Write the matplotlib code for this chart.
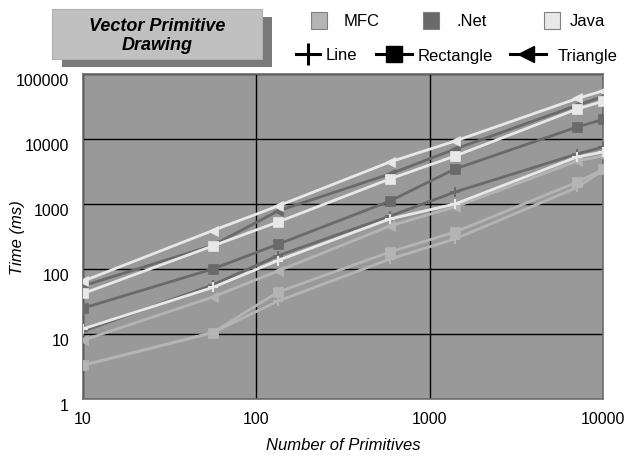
import matplotlib
matplotlib.use("Agg")
import matplotlib.pyplot as plt
from matplotlib.patches import Rectangle
from matplotlib.lines import Line2D
import matplotlib.transforms as mtransforms

plt.rcParams['font.family'] = ['Liberation Sans', 'DejaVu Sans']

# ---- data ----
x_vals = [10, 56, 133, 590, 1400, 7100, 10000]
mfc_line = [3.3, 10.5, 32, 142, 290, 1800, 3300]
mfc_rect = [3.3, 10.5, 44, 183, 370, 2170, 3400]
mfc_tri = [8, 37, 93, 460, 900, 4600, 5500]
net_line = [11, 57, 160, 650, 1530, 5900, 7500]
net_rect = [25, 100, 240, 1110, 3460, 15300, 20000]
net_tri = [55, 230, 780, 2900, 7000, 33000, 45000]
java_line = [12, 52, 135, 590, 1000, 5300, 6300]
java_rect = [42, 226, 528, 2430, 5470, 29000, 38000]
java_tri = [65, 390, 930, 4430, 9300, 42000, 55000]

platforms = ["MFC", ".Net", "Java"]
shapes = ["Line", "Rectangle", "Triangle"]
x_ticks = [10, 100, 1000, 10000]
x_tick_labels = ["10", "100", "1000", "10000"]
y_ticks = [1, 10, 100, 1000, 10000, 100000]
y_tick_labels = ["1", "10", "100", "1000", "10000", "100000"]

colors = {"MFC": "#b4b4b4", ".Net": "#6a6a6a", "Java": "#e8e8e8"}
markers = {"Line": "+", "Rectangle": "s", "Triangle": "<"}
series = {
    ("MFC", "Line"): mfc_line, ("MFC", "Rectangle"): mfc_rect, ("MFC", "Triangle"): mfc_tri,
    (".Net", "Line"): net_line, (".Net", "Rectangle"): net_rect, (".Net", "Triangle"): net_tri,
    ("Java", "Line"): java_line, ("Java", "Rectangle"): java_rect, ("Java", "Triangle"): java_tri,
}

W, H = 625, 460
fig = plt.figure(figsize=(W / 100, H / 100), dpi=100)
fig.patch.set_facecolor("white")

L, R, T, B = 83, 603, 75, 400
ax = fig.add_axes([L / W, 1 - B / H, (R - L) / W, (B - T) / H])
ax.set_facecolor("#999999")
ax.set_xscale("log")
ax.set_yscale("log")
ax.set_xlim(10, 10000)
ax.set_ylim(1, 100000)

for p in platforms:
    for s in shapes:
        ms = {"Line": 7, "Rectangle": 7, "Triangle": 6.5}[s]
        ax.plot(x_vals, series[(p, s)], color=colors[p], lw=2.0,
                marker=markers[s], markersize=ms, markeredgewidth=1.5 if s == "Line" else 0.5,
                markerfacecolor=colors[p], markeredgecolor=colors[p], zorder=3,
                clip_on=True)

ax.set_xticks(x_ticks)
ax.set_xticklabels(x_tick_labels)
ax.set_yticks(y_ticks)
ax.set_yticklabels(y_tick_labels)
ax.minorticks_off()
ax.tick_params(length=0, labelsize=11.5, colors="black")
ax.tick_params(axis="y", pad=10)
ax.tick_params(axis="x", pad=9)
offset = mtransforms.ScaledTranslation(0, -5 / 100, fig.dpi_scale_trans)
for lab in ax.get_yticklabels():
    lab.set_transform(lab.get_transform() + offset)
ax.grid(True, which="major", color="black", lw=1.0, zorder=1)
ax.set_axisbelow(True)
for sp in ax.spines.values():
    sp.set_color("#707070")
    sp.set_linewidth(1.2)

fig.text(18 / W, 1 - 238 / H, "Time (ms)", rotation=90, style="italic",
         fontsize=12, ha="center", va="center")
fig.text(343 / W, 1 - 446 / H, "Number of Primitives", style="italic",
         fontsize=12, ha="center", va="center")

# title box with shadow
fig.add_artist(Rectangle((62 / W, 1 - 68 / H), 210 / W, 50 / H, transform=fig.transFigure,
                         facecolor="#7a7a7a", edgecolor="none"))
fig.add_artist(Rectangle((52 / W, 1 - 60 / H), 210 / W, 50 / H, transform=fig.transFigure,
                         facecolor="#c0c0c0", edgecolor="#b0b0b0", lw=0.8))
fig.text(157 / W, 1 - 36 / H, "Vector Primitive\nDrawing", style="italic", weight="bold",
         fontsize=13, ha="center", va="center", linespacing=1.2)

# legend row 1 (platform colours)
sq_x = [311, 423, 544]
tx_x = [344, 456, 570]
for px, tx, p in zip(sq_x, tx_x, platforms):
    fig.add_artist(Rectangle((px / W, 1 - 30 / H), 16 / W, 17 / H, transform=fig.transFigure,
                             facecolor=colors[p], edgecolor="#808080", lw=0.8))
    fig.text(tx / W, 1 - 22 / H, p, fontsize=12, ha="left", va="center")

# legend row 2 (shapes)
row_y = 1 - 55 / H
leg = [(296, 320, 326), (376, 412, 418), (510, 546, 558)]
for (x0, x1, tx), s in zip(leg, shapes):
    cx = (x0 + x1) / 2
    fig.add_artist(Line2D([x0 / W, x1 / W], [row_y, row_y], transform=fig.transFigure,
                          color="black", lw=2.2))
    if s == "Line":
        fig.add_artist(Line2D([cx / W], [row_y], transform=fig.transFigure,
                              marker="|", markersize=16, markeredgewidth=2.2, color="black"))
    elif s == "Rectangle":
        fig.add_artist(Line2D([cx / W], [row_y], transform=fig.transFigure,
                              marker="s", markersize=11, color="black"))
    else:
        fig.add_artist(Line2D([(cx - 2) / W], [row_y], transform=fig.transFigure,
                              marker="<", markersize=11, color="black"))
    fig.text(tx / W, row_y - 1 / H, s, fontsize=12, ha="left", va="center")

fig.savefig("out.png", dpi=100)
